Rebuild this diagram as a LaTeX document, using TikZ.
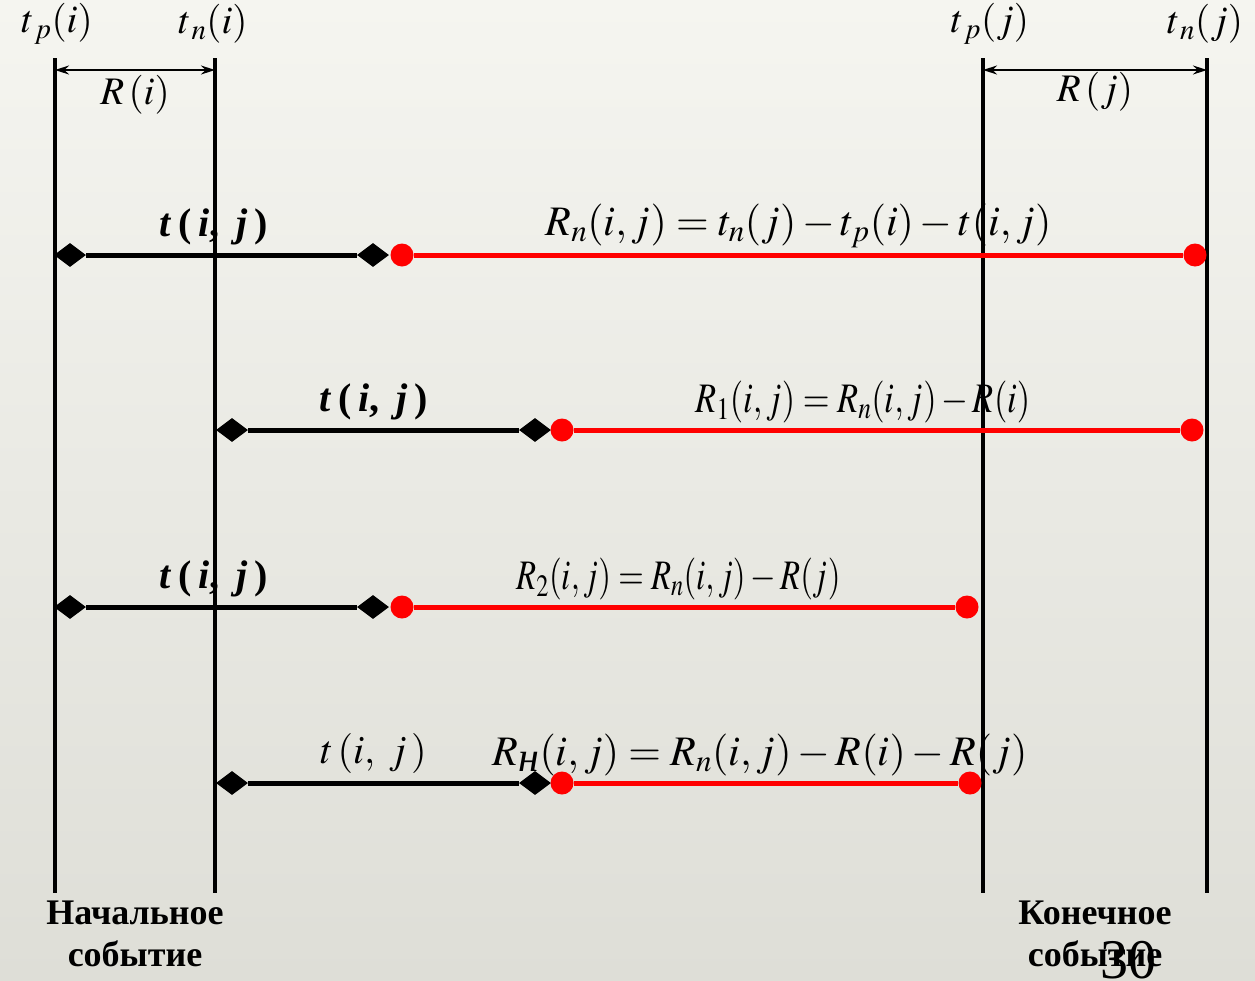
\documentclass[tikz,border=0pt]{standalone}
\usepackage{mathptmx}
\usepackage{fontspec}
\setmainfont{Liberation Serif}
\usepackage{tikz}
\usetikzlibrary{arrows.meta,positioning,shapes.geometric,calc}

\begin{document}
\begin{tikzpicture}[x=1pt, y=-1pt,
    axis/.style={line width=3.5pt},
    span/.style={{Stealth[length=14pt,width=9pt]}-{Stealth[length=14pt,width=9pt]}, line width=1.6pt},
    work/.style={line width=5pt},
    slack/.style={line width=5pt, red},
    dmd/.style={diamond, fill=black, inner sep=0pt, minimum width=32pt, minimum height=24pt},
    dot/.style={circle, fill=red, inner sep=0pt, minimum size=23pt},
    tlbl/.style={font=\fontsize{39}{39}\selectfont},
    dur/.style={above=4pt, font=\fontsize{40}{40}\selectfont\bfseries},
    frm/.style={above=1pt, text=black, font=\fontsize{42}{42}\selectfont},
    ev/.style={align=center, font=\fontsize{36}{42}\selectfont\bfseries}
]
    \shade[top color={rgb,255:red,245;green,245;blue,240}, bottom color={rgb,255:red,222;green,222;blue,215}] (0,0) rectangle (1255,980);
    \useasboundingbox (0,0) rectangle (1255,980);

    \coordinate (pi) at (55,58);   \coordinate (pi') at (55,893);
    \coordinate (ni) at (215,58);  \coordinate (ni') at (215,893);
    \coordinate (pj) at (983,58);  \coordinate (pj') at (983,893);
    \coordinate (nj) at (1207,58); \coordinate (nj') at (1207,893);
    \draw [axis] (pi) -- (pi');
    \draw [axis] (ni) -- (ni');
    \draw [axis] (pj) -- (pj');
    \draw [axis] (nj) -- (nj');

    \node [tlbl] (tpi) at (57,24) {$t_{\,p}(i)$};
    \node [tlbl] (tni) at (213,24) {$t_{\,n}(i)$};
    \node [tlbl] (tpj) at (990,24) {$t_{\,p}(j)$};
    \node [tlbl] (tnj) at (1205,24) {$t_{\,n}(j)$};

    \draw [span] ($(pi)+(0,12)$) -- node[below=1pt, tlbl] (Ri) {$R\,(i)$} ($(ni)+(0,12)$);
    \draw [span] ($(pj)+(0,12)$) -- node[below=-2pt, tlbl] (Rj) {$R\,(j)$} ($(nj)+(0,12)$);

    \node [dmd] (a1) at (70,255) {};   \node [dmd] (b1) at (373,255) {};
    \node [dot] (c1) at (402,255) {};  \node [dot] (d1) at (1195,255) {};
    \node [dmd] (a2) at (232,430) {};  \node [dmd] (b2) at (535,430) {};
    \node [dot] (c2) at (562,430) {};  \node [dot] (d2) at (1192,430) {};
    \node [dmd] (a3) at (70,607) {};   \node [dmd] (b3) at (373,607) {};
    \node [dot] (c3) at (402,607) {};  \node [dot] (d3) at (967,607) {};
    \node [dmd] (a4) at (232,783) {};  \node [dmd] (b4) at (535,783) {};
    \node [dot] (c4) at (562,783) {};  \node [dot] (d4) at (970,783) {};

    \draw [work] (a1) -- node[dur, xshift=-8pt] {\textit{t}\,(\,\textit{i}, \,\textit{j}\,)} (b1);
    \draw [slack] (c1) -- node[frm] {$R_n(i,j)=t_n(j)-t_p(i)-t(i,j)$} (d1);
    \draw [work] (a2) -- node[dur, xshift=-10pt] {\textit{t}\,(\,\textit{i}, \,\textit{j}\,)} (b2);
    \draw [slack] (c2) -- node[frm, xshift=-14pt] {\scalebox{0.82}[1]{$R_1(i,j)=R_n(i,j)-R(i)$}} (d2);
    \draw [work] (a3) -- node[dur, xshift=-8pt] {\textit{t}\,(\,\textit{i}, \,\textit{j}\,)} (b3);
    \draw [slack] (c3) -- node[frm, xshift=-6pt] {\scalebox{0.78}[1]{$R_2(i,j)=R_n(i,j)-R(j)$}} (d3);
    \draw [work] (a4) -- node[dur, xshift=-10pt, font=\fontsize{40}{40}\selectfont] {$t\,(i,\;j\,)$} (b4);
    \draw [slack] (c4) -- node[frm, xshift=-6pt] {$R_{\textit{н}}(i,j)=R_n(i,j)-R(i)-R(j)$} (d4);

    \node [ev] (start) at (135,934) {Начальное\\событие};
    \node [ev] (finish) at (1095,934) {Конечное\\событие};
    \node [font=\fontsize{56}{56}\selectfont] (page) at (1128,960) {30};
\end{tikzpicture}
\end{document}
